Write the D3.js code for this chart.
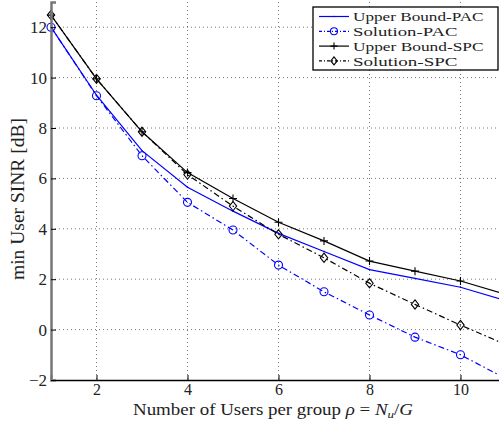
<!DOCTYPE html>
<html>
<head>
<meta charset="utf-8">
<script src="https://cdn.jsdelivr.net/npm/d3@7"></script>
<style>
  body { margin: 0; background: #fff; }
  svg { display: block; font-family: "Liberation Serif", serif; }
</style>
</head>
<body>
<svg id="chart" width="499" height="425"></svg>
<script>
// users per group
const users = [1, 2, 3, 4, 5, 6, 7, 8, 9, 10, 11];
const upperPAC = [12.0, 9.3, 7.1, 5.65, 4.7, 3.82, 3.1, 2.38, 2.03, 1.68, 1.15];
const solPAC = [12.0, 9.28, 6.9, 5.05, 3.95, 2.56, 1.5, 0.58, -0.3, -1.0, -1.95];
const upperSPC = [12.48, 9.95, 7.85, 6.23, 5.2, 4.26, 3.52, 2.72, 2.32, 1.93, 1.4];
const solSPC = [12.48, 9.95, 7.85, 6.15, 4.9, 3.78, 2.85, 1.84, 1.0, 0.18, -0.6];
const xTicks = [2, 4, 6, 8, 10];
const yTicks = [-2, 0, 2, 4, 6, 8, 10, 12];
const seriesNames = ["Upper Bound-PAC", "Solution-PAC", "Upper Bound-SPC", "Solution-SPC"];

(() => {
    let margin = {top: 2, right: -7, bottom: 45, left: 51},
        width = 499 - margin.left - margin.right,
        height = 425 - margin.top - margin.bottom,
        x = d3.scaleLinear().domain([1, 11]).range([0, width]),
        y = d3.scaleLinear().domain([-2, 13]).range([height, 0]);

    let svg = d3.select("svg#chart");
    let g = svg.append("g")
        .attr("transform", "translate(" + margin.left + "," + margin.top + ")");

    // grid
    g.append("g").selectAll("line")
        .data(xTicks)
        .enter().append("line")
        .attr("x1", d => x(d)).attr("x2", d => x(d))
        .attr("y1", 0).attr("y2", height)
        .attr("stroke", "#555").attr("stroke-width", 0.8)
        .attr("stroke-dasharray", "1,3");
    g.append("g").selectAll("line")
        .data(yTicks.filter(d => d > -2))
        .enter().append("line")
        .attr("x1", 0).attr("x2", width)
        .attr("y1", d => y(d)).attr("y2", d => y(d))
        .attr("stroke", "#555").attr("stroke-width", 0.8)
        .attr("stroke-dasharray", "1,3");

    let series = [
        {name: seriesNames[0], values: upperPAC, color: "#0000ff", dash: null, marker: "dot"},
        {name: seriesNames[1], values: solPAC, color: "#0000ff", dash: "6,3,1.5,3", marker: "circle"},
        {name: seriesNames[2], values: upperSPC, color: "#000", dash: null, marker: "plus"},
        {name: seriesNames[3], values: solSPC, color: "#000", dash: "6,3,1.5,3", marker: "diamond"}
    ];

    let line = d3.line()
        .x(d => x(d[0]))
        .y(d => y(d[1]));

    function drawMarker(sel, type, color, size) {
        if (type === "circle") {
            sel.append("circle").attr("r", size).attr("fill", "none")
                .attr("stroke", color).attr("stroke-width", 1.1);
        } else if (type === "plus") {
            sel.append("path").attr("d", "M" + (-size) + ",0H" + size + "M0," + (-size) + "V" + size)
                .attr("stroke", color).attr("stroke-width", 1.1);
        } else if (type === "diamond") {
            let s = size * 1.15;
            sel.append("path").attr("d", "M0," + (-s) + "L" + (s * 0.8) + ",0L0," + s + "L" + (-s * 0.8) + ",0Z")
                .attr("fill", "none").attr("stroke", color).attr("stroke-width", 1.1);
        } else if (type === "dot") {
            sel.append("circle").attr("r", 0.8).attr("fill", color);
        }
    }

    series.forEach(s => {
        let pts = users.map((u, i) => [u, s.values[i]]);
        g.append("path")
            .datum(pts)
            .attr("fill", "none")
            .attr("stroke", s.color)
            .attr("stroke-width", 1.2)
            .attr("stroke-dasharray", s.dash)
            .attr("d", line);
        pts.forEach(p => {
            let m = g.append("g").attr("transform", "translate(" + x(p[0]) + "," + y(p[1]) + ")");
            drawMarker(m, s.marker, s.color, 4);
        });
    });

    // axes
    let xAxis = g.append("g")
        .attr("transform", "translate(0," + height + ")")
        .call(d3.axisBottom(x).tickValues(xTicks).tickSize(-5).tickPadding(4).tickFormat(d3.format("d")))
        .attr("font-family", "Liberation Serif");
    xAxis.select(".domain").attr("stroke", "#000").attr("stroke-width", 1.5);
    xAxis.selectAll("text").attr("font-size", 16).attr("fill", "#222");

    let yAxis = g.append("g")
        .call(d3.axisLeft(y).tickValues(yTicks).tickSize(-5).tickPadding(4)
            .tickFormat(d => d < 0 ? "\u2212" + Math.abs(d) : d))
        .attr("font-family", "Liberation Serif");
    yAxis.select(".domain").attr("stroke", "#777").attr("stroke-width", 2.5);
    yAxis.selectAll("text").attr("font-size", 17).attr("fill", "#222");

    // axis labels
    svg.append("text")
        .attr("x", 133).attr("y", 415)
        .attr("textLength", 280).attr("lengthAdjust", "spacingAndGlyphs")
        .attr("font-size", 16).attr("fill", "#222")
        .html("Number of Users per group <tspan font-style='italic'>ρ</tspan> = <tspan font-style='italic'>N</tspan><tspan font-style='italic' font-size='11' dy='3'>u</tspan><tspan dy='-3'>/</tspan><tspan font-style='italic'>G</tspan>");

    svg.append("text")
        .attr("transform", "translate(24,280) rotate(-90)")
        .attr("textLength", 162).attr("lengthAdjust", "spacingAndGlyphs")
        .attr("font-size", 18).attr("fill", "#222")
        .text("min User SINR [dB]");

    // legend
    let legend = svg.append("g").attr("transform", "translate(313,7)");
    legend.append("rect")
        .attr("x", 0).attr("y", 0).attr("width", 185).attr("height", 63)
        .attr("fill", "#fff").attr("stroke", "#000").attr("stroke-width", 1.3);

    let item = legend.selectAll(".legend")
        .data(series)
        .enter().append("g")
        .attr("class", "legend")
        .attr("transform", (d, i) => "translate(0," + (9.5 + i * 14.8) + ")");

    item.append("line")
        .attr("x1", 6).attr("x2", 36)
        .attr("stroke", d => d.color)
        .attr("stroke-width", 1.2)
        .attr("stroke-dasharray", d => d.dash ? "3,2,1,2" : null);
    item.each(function(d) {
        let m = d3.select(this).append("g").attr("transform", "translate(21,0)");
        drawMarker(m, d.marker, d.color, 3.5);
    });
    item.append("text")
        .attr("x", 40).attr("y", 0)
        .attr("dy", ".36em")
        .attr("textLength", d => d.name.length * 8.7)
        .attr("lengthAdjust", "spacingAndGlyphs")
        .attr("font-size", 13.2).attr("fill", "#222")
        .text(d => d.name);
})();
</script>
</body>
</html>
